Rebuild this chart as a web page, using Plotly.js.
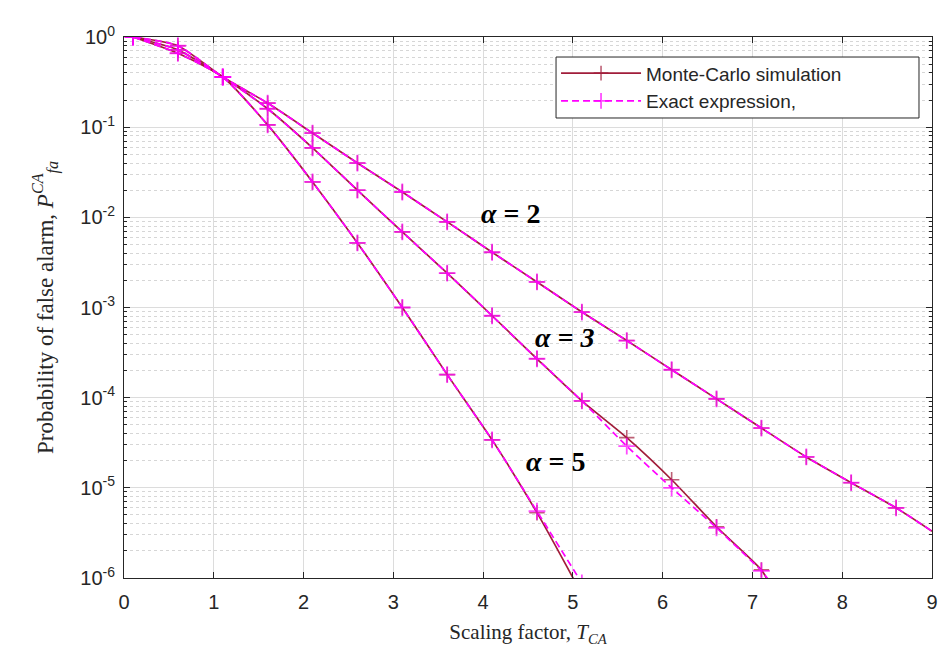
<!DOCTYPE html>
<html>
<head>
<meta charset="utf-8">
<script src="https://cdn.plot.ly/plotly-3.0.1.min.js"></script>
<style>
  html, body { margin: 0; padding: 0; background: #ffffff; }
  #chart { width: 941px; height: 654px; }
</style>
</head>
<body>
<div id="chart"></div>
<script>
// Scaling factor samples (markers every 0.5, plus the point where each curve leaves the plot)
const xA2 = [0.1, 0.6, 1.1, 1.6, 2.1, 2.6, 3.1, 3.6, 4.1, 4.6, 5.1, 5.6, 6.1, 6.6, 7.1, 7.6, 8.1, 8.6, 9.0];
const xA3 = [0.1, 0.6, 1.1, 1.6, 2.1, 2.6, 3.1, 3.6, 4.1, 4.6, 5.1, 5.6, 6.1, 6.6, 7.1, 7.2];
const xA5 = [0.1, 0.6, 1.1, 1.6, 2.1, 2.6, 3.1, 3.6, 4.1, 4.6, 5.1];

// Monte-Carlo simulation results
const mcA2 = [1.0, 0.80, 0.36, 0.185, 0.086, 0.040, 0.0191, 0.0089, 0.0041, 0.00192, 8.9e-4, 4.3e-4, 2.04e-4, 9.7e-5, 4.6e-5, 2.2e-5, 1.14e-5, 6.0e-6, 3.3e-6];
const mcA3 = [1.0, 0.72, 0.36, 0.16, 0.059, 0.020, 0.0069, 0.0024, 8.1e-4, 2.7e-4, 9.2e-5, 3.6e-5, 1.23e-5, 3.7e-6, 1.23e-6, 8.3e-7];
const mcA5 = [1.0, 0.66, 0.36, 0.106, 0.0247, 0.0052, 0.0010, 1.8e-4, 3.4e-5, 5.3e-6, 6.6e-7];

// Exact expression
const exA2 = [1.0, 0.80, 0.36, 0.185, 0.086, 0.040, 0.0191, 0.0089, 0.0041, 0.00192, 8.9e-4, 4.3e-4, 2.04e-4, 9.7e-5, 4.6e-5, 2.2e-5, 1.14e-5, 6.0e-6, 3.3e-6];
const exA3 = [1.0, 0.72, 0.36, 0.16, 0.059, 0.020, 0.0069, 0.0024, 8.1e-4, 2.7e-4, 9.2e-5, 2.9e-5, 1.0e-5, 3.6e-6, 1.2e-6, 9.0e-7];
const exA5 = [1.0, 0.66, 0.36, 0.106, 0.0247, 0.0052, 0.0010, 1.8e-4, 3.4e-5, 5.5e-6, 8.8e-7];

// Axis tick labels
const xTickVals = [0, 1, 2, 3, 4, 5, 6, 7, 8, 9];
const yTickVals = [1, 1e-1, 1e-2, 1e-3, 1e-4, 1e-5, 1e-6];
const yTickText = ['10<sup>0</sup>', '10<sup>-1</sup>', '10<sup>-2</sup>', '10<sup>-3</sup>', '10<sup>-4</sup>', '10<sup>-5</sup>', '10<sup>-6</sup>'];

// Curve labels
const curveLabels = ['<b><i>α</i> = 2</b>', '<b><i>α = 3</i></b>', '<b><i>α</i> = 5</b>'];
const labelX = [4.3, 4.91, 4.81];
const labelY = [0.011, 4.6e-4, 1.95e-5];

const mcColor = '#a11d3a';
const exColor = '#ff00ff';

// Markers only on the 0.5-spaced grid, none on the terminal point
function markerSizes(xs, size) {
  return xs.map(v => (Math.abs(((v - 0.1) / 0.5) - Math.round((v - 0.1) / 0.5)) < 1e-6 ? size : 0));
}

function mcTrace(xs, ys, first) {
  return {
    x: xs, y: ys, type: 'scatter', mode: 'lines+markers',
    name: 'Monte-Carlo simulation', showlegend: first, legendgroup: 'mc',
    line: { color: mcColor, width: 1.7, shape: 'spline', smoothing: 0.6 },
    marker: { symbol: 'cross-thin-open', size: markerSizes(xs, 11), color: mcColor, line: { color: mcColor, width: 1.6 } }
  };
}
function exTrace(xs, ys, first) {
  return {
    x: xs, y: ys, type: 'scatter', mode: 'lines+markers',
    name: 'Exact expression,', showlegend: first, legendgroup: 'ex',
    line: { color: exColor, width: 1.7, dash: '7px,4px', shape: 'spline', smoothing: 0.6 },
    marker: { symbol: 'cross-thin-open', size: markerSizes(xs, 12), color: exColor, line: { color: exColor, width: 1.8 } }
  };
}

const traces = [
  mcTrace(xA2, mcA2, true), mcTrace(xA3, mcA3, false), mcTrace(xA5, mcA5, false),
  exTrace(xA2, exA2, true), exTrace(xA3, exA3, false), exTrace(xA5, exA5, false)
];

// Minor grid positions at 2..9 within each decade
const minorVals = [];
for (let d = -6; d < 0; d++) {
  for (let k = 2; k <= 9; k++) minorVals.push(k * Math.pow(10, d));
}

const annotations = curveLabels.map((t, i) => ({
  x: labelX[i], y: Math.log10(labelY[i]), xref: 'x', yref: 'y', text: t, showarrow: false,
  font: { family: 'Liberation Serif', size: 28, color: '#000000' }
}));

const sans = 'Liberation Sans, Arial, sans-serif';
const serif = 'Liberation Serif, Times New Roman, serif';

// Framed white panel behind the legend entries
const legendFrame = {
  type: 'rect', xref: 'paper', yref: 'paper', layer: 'above',
  x0: 0.5347, x1: 0.9839, y0: 0.8503, y1: 0.963,
  fillcolor: '#ffffff', line: { color: '#262626', width: 1 }
};

const layout = {
  width: 941, height: 654,
  margin: { l: 124, r: 9, t: 37, b: 76 },
  paper_bgcolor: '#ffffff', plot_bgcolor: '#ffffff',
  showlegend: true,
  legend: {
    x: 0.5347, y: 0.968, xanchor: 'left', yanchor: 'top',
    bgcolor: 'rgba(0,0,0,0)', borderwidth: 0,
    font: { family: sans, size: 19, color: '#262626' },
    tracegroupgap: 0, itemwidth: 80
  },
  shapes: [legendFrame],
  xaxis: {
    range: [0, 9], tickmode: 'array', tickvals: xTickVals,
    ticks: 'inside', ticklen: 6, tickcolor: '#262626', mirror: 'ticks',
    showline: true, linecolor: '#262626', linewidth: 1,
    showgrid: true, gridcolor: '#dcdcdc', gridwidth: 1, zeroline: false,
    ticklabelstandoff: 6,
    tickfont: { family: sans, size: 20, color: '#262626' },
    title: { text: 'Scaling factor, <i>T</i><sub><i>CA</i></sub>', standoff: 12,
             font: { family: serif, size: 21, color: '#262626' } }
  },
  yaxis: {
    type: 'log', range: [-6, 0], tickmode: 'array', tickvals: yTickVals, ticktext: yTickText,
    ticks: 'inside', ticklen: 6, tickcolor: '#262626', mirror: 'ticks',
    showline: true, linecolor: '#262626', linewidth: 1,
    showgrid: true, gridcolor: '#dcdcdc', gridwidth: 1, zeroline: false,
    ticklabelstandoff: 4,
    tickfont: { family: sans, size: 20, color: '#262626' },
    minor: { tickmode: 'array', tickvals: minorVals, ticks: 'inside', ticklen: 3, tickcolor: '#262626',
             showgrid: true, gridcolor: '#d6d6d6', griddash: 'dot', gridwidth: 1 },
    title: { text: 'Probability of false alarm, <i>P</i><sup><i>CA</i></sup><sub><i>fa</i></sub>', standoff: 20,
             font: { family: serif, size: 23, color: '#262626' } }
  },
  annotations: annotations
};

Plotly.newPlot('chart', traces, layout, { displayModeBar: false, staticPlot: true });
</script>
</body>
</html>
